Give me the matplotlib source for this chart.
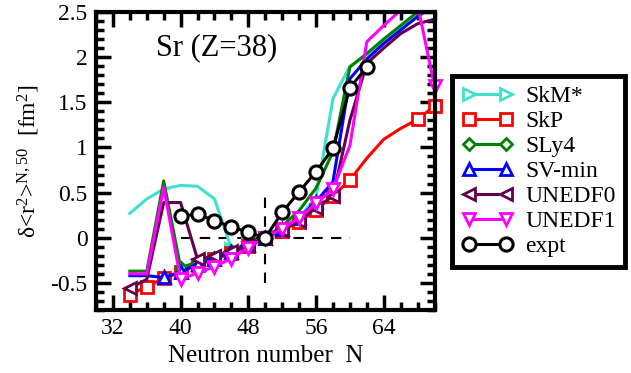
import matplotlib
matplotlib.use('Agg')
import matplotlib.pyplot as plt
from matplotlib.lines import Line2D
from matplotlib.ticker import MultipleLocator, FormatStrFormatter

plt.rcParams['font.family'] = ['Liberation Serif', 'DejaVu Serif']
plt.rcParams['mathtext.fontset'] = 'custom'
plt.rcParams['mathtext.rm'] = 'Liberation Serif'
plt.rcParams['mathtext.it'] = 'Liberation Serif:italic'
plt.rcParams['axes.unicode_minus'] = False

# neutron numbers of the calculations
N = [34, 36, 38, 40, 42, 44, 46, 48, 50, 52, 54, 56, 58, 60, 62, 64, 66, 68, 70]

skms = [0.27, 0.43, 0.54, 0.58, 0.57, 0.43, -0.12, -0.06, 0.0, 0.10, 0.22, 0.45, 1.54, 1.90, 2.03, 2.18, 2.32, 2.45, 2.58]
skp = [-0.63, -0.54, -0.45, -0.38, -0.30, -0.24, -0.17, -0.09, 0.0, 0.08, 0.17, 0.31, 0.46, 0.64, 0.88, 1.09, 1.21, 1.31, 1.46]
sly4 = [-0.37, -0.37, 0.63, -0.33, -0.27, -0.22, -0.15, -0.07, 0.0, 0.13, 0.30, 0.55, 0.95, 1.89, 2.04, 2.20, 2.35, 2.50, 2.62]
svmin = [-0.42, -0.42, -0.44, -0.38, -0.29, -0.23, -0.16, -0.08, 0.0, 0.10, 0.22, 0.40, 0.62, 1.76, 1.98, 2.15, 2.30, 2.45, 2.58]
unedf0 = [-0.56, -0.46, 0.39, 0.39, -0.24, -0.20, -0.15, -0.08, 0.0, 0.09, 0.19, 0.33, 0.46, 1.30, 1.93, 2.10, 2.26, 2.37, 2.42]
unedf1 = [-0.40, -0.40, 0.56, -0.46, -0.39, -0.32, -0.23, -0.11, 0.0, 0.10, 0.22, 0.38, 0.54, 1.02, 2.17, 2.35, 2.52, 2.58, 1.68]

# experiment
N_expt = [40, 42, 44, 46, 48, 50, 52, 54, 56, 58, 60, 62]
expt = [0.24, 0.26, 0.19, 0.12, 0.06, 0.0, 0.28, 0.51, 0.73, 0.99, 1.66, 1.89]

models = [
    ('SkM*', skms, '#40E0D0', '>', [6, 7, 8, 9]),
    ('SkP', skp, '#FF0000', 's', list(range(0, 14)) + [17]),
    ('SLy4', sly4, '#008000', 'D', list(range(3, 9))),
    ('SV-min', svmin, '#0000FF', '^', list(range(2, 12))),
    ('UNEDF0', unedf0, '#640050', '<', [0] + list(range(4, 13))),
    ('UNEDF1', unedf1, '#FF00FF', 'v', list(range(3, 13))),
]

fig = plt.figure(figsize=(6.31, 3.73), dpi=100)
ax = fig.add_axes([96 / 631, 1 - 310 / 373, 338.5 / 631, 298 / 373])

# reference lines
ax.plot([50, 50], [-0.5, 0.5], color='k', lw=1.5, dashes=(5, 4))
ax.plot([40, 60], [0, 0], color='k', lw=1.5, dashes=(5, 4))

handles = []
for name, vals, color, marker, marks in models:
    ms = 6.5 if marker == 'D' else 8.5
    ax.plot(N, vals, color=color, lw=2.2, marker=marker, markevery=marks,
            ms=ms, mfc='white', mec=color, mew=2)
    handles.append(Line2D([], [], color=color, lw=2.2, marker=marker, ms=ms,
                          mfc='white', mec=color, mew=2, label=name))

# markers sitting on the right edge
for vals, color, marker in [(skp, '#FF0000', 's'), (unedf1, '#FF00FF', 'v')]:
    ax.plot(N[-1], vals[-1], ls='none', marker=marker, ms=8.5, mfc='white',
            mec=color, mew=2, clip_on=False)

ax.plot(N_expt, expt, color='k', lw=2.2, marker='o', ms=9.5, mfc='white',
        mec='k', mew=2.2, zorder=5)
handles.append(Line2D([], [], color='k', lw=2.2, marker='o', ms=9.5,
                      mfc='white', mec='k', mew=2.2, label='expt'))

ax.set_xlim(30, 70)
ax.set_ylim(-0.8, 2.5)
ax.xaxis.set_major_locator(MultipleLocator(8))
ax.xaxis.set_minor_locator(MultipleLocator(2))
ax.yaxis.set_major_locator(MultipleLocator(0.5))
ax.yaxis.set_minor_locator(MultipleLocator(0.1))
ax.yaxis.set_major_formatter(FormatStrFormatter('%g'))
ax.set_xticks([32, 40, 48, 56, 64])

ax.tick_params(which='both', direction='in', top=True, right=True, width=2.5,
               labelsize=17)
ax.tick_params(which='major', length=11, pad=6)
ax.tick_params(which='minor', length=6)
for sp in ax.spines.values():
    sp.set_linewidth(3)

ax.set_xlabel('Neutron number  N', fontsize=18, labelpad=4)
ax.set_ylabel(r'δ<r$^2$>$^{\mathrm{N,50}}$  [fm$^2$]', fontsize=17, labelpad=6)

ax.text(0.357, 0.879, 'Sr (Z=38)', transform=ax.transAxes, ha='center',
        va='center', fontsize=22)

leg = fig.legend(handles=handles, loc='upper left',
                 bbox_to_anchor=(452 / 631, 1 - 76 / 373), fontsize=17,
                 numpoints=2, handlelength=2.2, handletextpad=0.5,
                 labelspacing=0.15, borderpad=0.4, borderaxespad=0,
                 fancybox=False, framealpha=1)
leg.get_frame().set_edgecolor('k')
leg.get_frame().set_linewidth(3.5)

fig.savefig('out.png', dpi=100)
